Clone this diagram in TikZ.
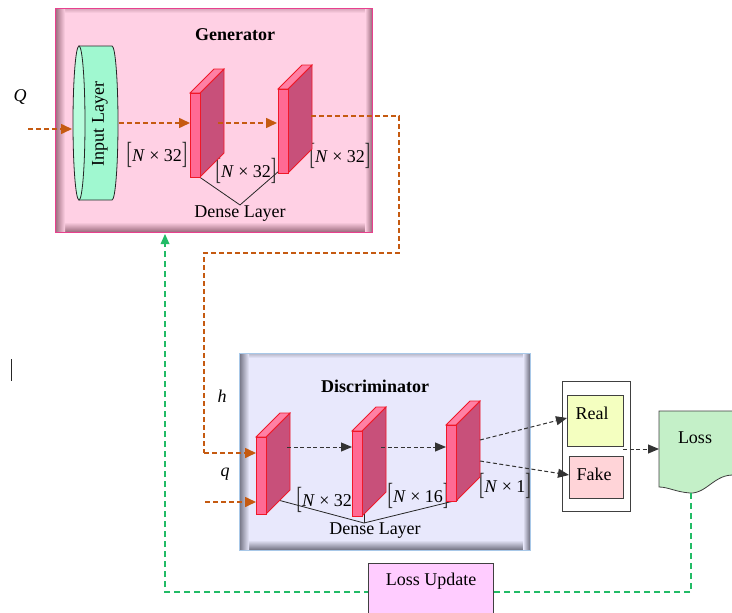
\documentclass[tikz,border=0pt]{standalone}
\usepackage{fontspec}
\usepackage{graphicx}
\setmainfont{Liberation Serif}
\usetikzlibrary{arrows.meta}

\definecolor{genfill}{HTML}{FFD0E4}
\definecolor{genshade}{HTML}{9A6A7C}
\definecolor{genborder}{HTML}{E8408E}
\definecolor{disfill}{HTML}{E8E8FC}
\definecolor{disshade}{HTML}{707080}
\definecolor{disborder}{HTML}{A8C8E8}
\definecolor{slabfront}{HTML}{FF6A94}
\definecolor{slabside}{HTML}{C8507A}
\definecolor{slabedge}{HTML}{F01828}
\definecolor{inputfill}{HTML}{A0F8D0}
\definecolor{inputcap}{HTML}{B8FCDC}
\definecolor{flowc}{HTML}{C55A11}
\definecolor{fbgreen}{HTML}{22BB66}
\definecolor{realfill}{HTML}{F4FFC0}
\definecolor{fakefill}{HTML}{FFD4D8}
\definecolor{lossfill}{HTML}{C4F0C8}
\definecolor{updfill}{HTML}{FFCCFF}

% panel with an inset shadow along its edges
\newcommand\insetbox[7]{%
  \fill[#5] (#1,#2) rectangle (#3,#4);
  \shade[top color=#5, bottom color=#6] (#1,#4-10) rectangle (#3,#4);
  \shade[top color=#6!45!#5, bottom color=#5] (#1,#2) rectangle (#3,#2+5);
  \shade[left color=#6, right color=#5] (#1,#2) rectangle (#1+10,#4);
  \shade[left color=#5, right color=#6] (#3-7,#2) rectangle (#3,#4);
  \draw[#7, line width=1pt] (#1,#2) rectangle (#3,#4);
}

% dense layer slab: name, left x, top y, bottom y
\newcommand\dlayer[4]{%
  \filldraw[fill=slabside, draw=slabedge, line width=0.8pt]
    (#2+10,#3) -- (#2+34,#3-24) -- (#2+34,#4-24) -- (#2+10,#4) -- cycle;
  \filldraw[fill=slabfront!85!white, draw=slabedge, line width=0.8pt]
    (#2,#3) -- (#2+24,#3-24) -- (#2+34,#3-24) -- (#2+10,#3) -- cycle;
  \filldraw[fill=slabfront, draw=slabedge, line width=0.8pt]
    (#2,#3) rectangle (#2+10,#4);
  \coordinate (#1-top) at (#2+24,#3-24);
}

\newcommand\sqbr[1]{\raisebox{-1.8pt}{\scalebox{0.9}[1.7]{\textcolor{black!80}{#1}}}}
\newcommand\dimtext[1]{\sqbr{[}\textit{N}\hspace{0.25em}×\hspace{0.25em}#1\sqbr{]}}

\begin{document}
\begin{tikzpicture}[x=1pt, y=-1pt, font=\fontsize{18}{20}\selectfont,
  flow/.style={draw=flowc, line width=1.6pt, dash pattern=on 5pt off 3pt,
    -{Triangle[length=11pt,width=10pt]}},
  flowline/.style={draw=flowc, line width=1.6pt, dash pattern=on 5pt off 3pt},
  blkflow/.style={draw=black!80, line width=1pt, dash pattern=on 4pt off 2.5pt,
    -{Triangle[length=11pt,width=9pt]}},
  fbline/.style={draw=fbgreen, line width=1.4pt, dash pattern=on 6pt off 4pt},
  brace/.style={draw=black!85, line width=0.8pt},
  title/.style={font=\fontsize{18}{20}\selectfont\bfseries},
  plain/.style={inner sep=1pt},
  outbox/.style={draw=black!75, line width=0.8pt, anchor=north west, inner sep=0pt}]
\useasboundingbox (0,0) rectangle (732,613);

% ---------------- generator ----------------
\insetbox{55}{8}{372}{232}{genfill}{genshade}{genborder}
\node[title] (gtitle) at (235,35) {Generator};

% input layer drawn as a cylinder lying on its side
\filldraw[fill=inputfill, draw=black!85, line width=0.8pt]
  (79,46) -- (112,46) arc[start angle=-90, end angle=90, x radius=6, y radius=77]
  -- (79,200) -- cycle;
\filldraw[fill=inputcap, draw=black!85, line width=0.8pt]
  (79,123) ellipse[x radius=6, y radius=77];
\node[rotate=90, plain] (inlayer) at (100,124) {Input Layer};
\coordinate (in-left) at (72,129);
\coordinate (in-right) at (119,123);

% dimension labels (behind the slabs)
\node[plain] (gdim0) at (157,155) {\dimtext{32}};
\node[plain] (gdim1) at (246,171) {\dimtext{32}};
\node[plain] (gdim2) at (340,156) {\dimtext{32}};

\node[plain] (gdense) at (240,214) {Dense Layer};
\draw[brace] (198,176) -- (gdense.north) -- (279,171);

\dlayer{g1}{190}{93}{177}
\dlayer{g2}{278}{89}{173}
\coordinate (g1-in) at (190,123);
\coordinate (g1-out) at (218,123);
\coordinate (g2-in) at (277,123);
\coordinate (g2-out) at (311,116);

\node[font=\fontsize{18}{20}\selectfont\itshape, plain] (qbig) at (20,97) {Q};
\coordinate (q-start) at (28,129);
\draw[flow] (q-start) -- (in-left);
\draw[flow] (in-right) -- (g1-in);
\draw[flow] (g1-out) -- (g2-in);

% ---------------- discriminator ----------------
\insetbox{239}{353}{530}{550}{disfill}{disshade}{disborder}
\node[title] (dtitle) at (375,386) {Discriminator};

\node[plain] (ddim0) at (327,500) {\dimtext{32}};
\node[plain] (ddim1) at (418,496) {\dimtext{16}};
\node[plain] (ddim2) at (505,486) {\dimtext{1}};

\node[plain] (ddense) at (375,531) {Dense Layer};
\draw[brace] (278,500) -- (364,523) -- (458,500);
\draw[brace] (364,504) -- (364,523);

\dlayer{d1}{256}{437}{514}
\dlayer{d2}{352}{431}{516}
\dlayer{d3}{446}{425}{501}
\coordinate (d1-in) at (256,453);
\coordinate (d1-inq) at (256,502);
\coordinate (d1-out) at (287,447);
\coordinate (d2-in) at (352,447);
\coordinate (d2-out) at (381,447);
\coordinate (d3-in) at (446,447);
\coordinate (d3-outa) at (480,440);
\coordinate (d3-outb) at (480,461);

\draw[blkflow] (d1-out) -- (d2-in);
\draw[blkflow] (d2-out) -- (d3-in);

% generator output routed to the discriminator
\coordinate (r1) at (399,116);
\coordinate (r2) at (399,253);
\coordinate (r3) at (204,253);
\coordinate (r4) at (204,453);
\draw[flowline] (g2-out) -- (r1) -- (r2) -- (r3) -- (r4);
\draw[flow] (r4) -- (d1-in);

\node[font=\fontsize{18}{20}\selectfont\itshape, plain] (hlab) at (222,396) {h};
\node[font=\fontsize{18}{20}\selectfont\itshape, plain] (qlab) at (225,474) {q};
\coordinate (qs-start) at (205,502);
\draw[flow] (qs-start) -- (d1-inq);

% ---------------- outputs ----------------
\node[outbox, fill=white, minimum width=68, minimum height=130] (outs) at (562,381) {};
\node[outbox, fill=realfill, minimum width=56, minimum height=51] (real) at (567,395) {};
\node[outbox, fill=fakefill, minimum width=54, minimum height=42] (fake) at (569,456) {};
\node[plain] (realtxt) at (592,413) {Real};
\node[plain] (faketxt) at (594,474) {Fake};

\draw[blkflow] (d3-outa) -- (real.west |- 0,418);
\draw[blkflow] (d3-outb) -- (fake.west |- 0,475);

% loss as a document shape with a wavy lower edge
\filldraw[fill=lossfill, draw=black!75, line width=0.8pt]
  (659,411) -- (740,411) -- (740,476)
  .. controls (716,470) and (708,494) .. (690,493)
  .. controls (676,492) and (668,487) .. (659,487) -- cycle;
\node[plain] (loss) at (695,438) {Loss};
\coordinate (loss-in) at (659,449);
\coordinate (loss-bot) at (691,493);
\coordinate (real-fake) at (623,449);
\draw[blkflow] (real-fake) -- (loss-in);

% feedback path to the generator
\coordinate (f1) at (691,592);
\coordinate (f2) at (165,592);
\coordinate (gen-bottom) at (165,234);
\draw[fbline] (loss-bot) -- (f1) -- (f2) -- (165,244);
\fill[fbgreen] (gen-bottom) -- (160.5,244) -- (169.5,244) -- cycle;

\node[outbox, fill=updfill, minimum width=125, minimum height=60] (update) at (368,563) {};
\node[plain] (updtxt) at (431,581) {Loss Update};

% text cursor at the left margin
\draw[black!85, line width=1.2pt] (11.5,359) -- (11.5,381);
\end{tikzpicture}
\end{document}
